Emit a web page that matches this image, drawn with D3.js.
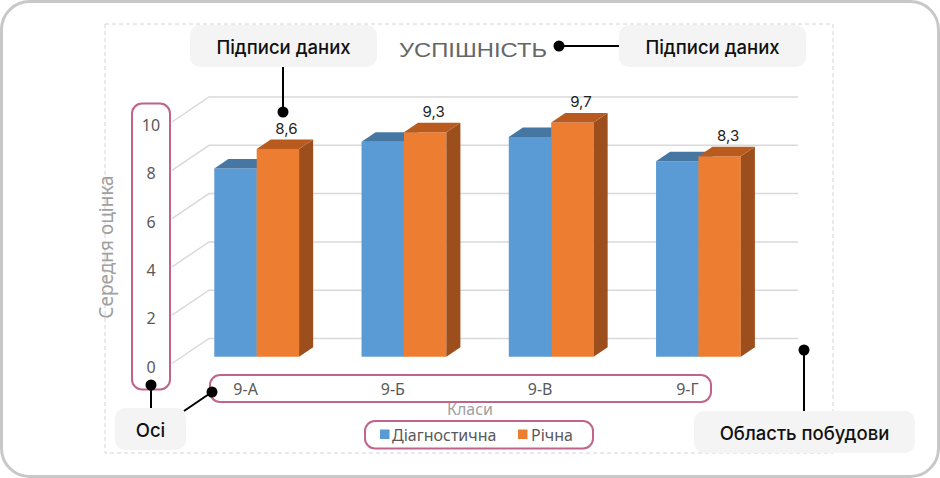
<!DOCTYPE html>
<html>
<head>
<meta charset="utf-8">
<script src="https://cdn.jsdelivr.net/npm/d3@7"></script>
<style>
  body { margin: 0; background: #fff; }
  svg { display: block; }
</style>
</head>
<body>
<svg id="chart"></svg>
<script>
// chart data
const categories = ['9-А', '9-Б', '9-В', '9-Г'];
const seriesNames = ['Діагностична', 'Річна'];
const diagnostic = [7.8, 8.9, 9.1, 8.1];
const annual = [8.6, 9.3, 9.7, 8.3];
const yTicks = [0, 2, 4, 6, 8, 10];
const titleText = 'УСПІШНІСТЬ';
const yTitle = 'Середня оцінка';
const xTitle = 'Класи';

const W = 940, H = 478;
const svg = d3.select('#chart').attr('width', W).attr('height', H);

const colors = {
  'Діагностична': { front: '#5b9bd5', top: '#4677a3', side: '#3f6d96' },
  'Річна': { front: '#ed7d31', top: '#b95b1f', side: '#9c4f1d' }
};
const pink = '#c0648c';
const axisFont = '"Noto Sans", sans-serif';

// fake 3d: depth 0 = front plane, 1 = back wall
const DX = 37, DY = -25;
const x = d3.scaleBand().domain(categories).range([172, 761]);
const xs = d3.scaleBand().domain(seriesNames).range([32.3, 117.1]);
const y = d3.scaleLinear().domain([0, 10]).range([363.5, 122]);
const d0 = 0.27, d1 = 0.65;

// outer frame
svg.append('rect')
  .attr('x', 1.5).attr('y', 1.5).attr('width', W - 3).attr('height', H - 3)
  .attr('rx', 28).attr('fill', '#fff')
  .attr('stroke', '#c8c8c8').attr('stroke-width', 3);

// chart area
svg.append('rect')
  .attr('x', 105).attr('y', 24).attr('width', 728).attr('height', 429)
  .attr('fill', 'none').attr('stroke', '#d4d4d4')
  .attr('stroke-dasharray', '4,3').attr('stroke-width', 1);

// gridlines: side wall diagonal + back wall horizontal
const grid = svg.append('g').attr('stroke', '#d9d9d9').attr('stroke-width', 1.5).attr('fill', 'none');
yTicks.forEach(t => {
  grid.append('path').attr('d', d3.line()([
    [x.range()[0], y(t)],
    [x.range()[0] + DX, y(t) + DY],
    [x.range()[1] + DX, y(t) + DY]
  ]));
});

// bars
const bars = svg.append('g');
categories.forEach((c, i) => {
  [diagnostic[i], annual[i]].forEach((v, k) => {
    const s = seriesNames[k];
    const col = colors[s];
    const xl = x(c) + xs(s), xr = xl + xs.bandwidth();
    const p = (xx, vv, d) => [xx + DX * d, y(vv) + DY * d];
    // front face
    bars.append('path').attr('fill', col.front)
      .attr('d', d3.line()([p(xl, 0, d0), p(xr, 0, d0), p(xr, v, d0), p(xl, v, d0)]) + 'Z');
    // side face
    bars.append('path').attr('fill', col.side)
      .attr('d', d3.line()([p(xr, 0, d0), p(xr, 0, d1), p(xr, v, d1), p(xr, v, d0)]) + 'Z');
    // top face
    bars.append('path').attr('fill', col.top)
      .attr('d', d3.line()([p(xl, v, d0), p(xr, v, d0), p(xr, v, d1), p(xl, v, d1)]) + 'Z');
    // data labels on annual only
    if (s === 'Річна') {
      bars.append('text')
        .attr('x', (xl + xr) / 2 + DX * 0.5)
        .attr('y', y(v) + DY * d1 - 6)
        .attr('text-anchor', 'middle')
        .attr('font-family', 'Inter, sans-serif')
        .attr('font-size', 15)
        .attr('fill', '#222')
        .text(String(v).replace('.', ','));
    }
  });
});

// y tick labels
svg.append('g').selectAll('text').data(yTicks).join('text')
  .attr('x', 151).attr('y', d => y(d) + 3)
  .attr('text-anchor', 'middle').attr('dominant-baseline', 'central')
  .attr('font-family', axisFont).attr('font-size', 16)
  .attr('fill', '#595959')
  .text(d => d);

// x tick labels
svg.append('g').selectAll('text').data(categories).join('text')
  .attr('x', d => x(d) + x.bandwidth() / 2).attr('y', 389)
  .attr('text-anchor', 'middle').attr('dominant-baseline', 'central')
  .attr('font-family', axisFont).attr('font-size', 16)
  .attr('fill', '#595959')
  .text(d => d);

// axis titles
svg.append('text')
  .attr('transform', 'translate(106,247) rotate(-90)')
  .attr('text-anchor', 'middle').attr('dominant-baseline', 'central')
  .attr('font-family', axisFont).attr('font-size', 19)
  .attr('fill', '#a0a0a0')
  .text(yTitle);

svg.append('text')
  .attr('x', 470).attr('y', 409)
  .attr('text-anchor', 'middle').attr('dominant-baseline', 'central')
  .attr('font-family', axisFont).attr('font-size', 16)
  .attr('fill', '#a0a0a0')
  .text(xTitle);

// title
svg.append('text')
  .attr('x', 473).attr('y', 56.5)
  .attr('text-anchor', 'middle')
  .attr('font-family', '"Liberation Sans Narrow", "Liberation Sans", sans-serif')
  .attr('font-size', 21)
  .attr('textLength', 148).attr('lengthAdjust', 'spacingAndGlyphs')
  .attr('fill', '#666')
  .text(titleText);

// legend
const legend = svg.append('g');
const legendItems = [
  { name: seriesNames[0], sx: 380, tx: 392 },
  { name: seriesNames[1], sx: 518, tx: 531 }
];
legendItems.forEach(it => {
  legend.append('rect').attr('x', it.sx).attr('y', 429.5).attr('width', 9.5).attr('height', 9.5)
    .attr('fill', colors[it.name].front);
  legend.append('text').attr('x', it.tx).attr('y', 434.5)
    .attr('dominant-baseline', 'central')
    .attr('font-family', axisFont).attr('font-size', 16)
    .attr('fill', '#595959')
    .text(it.name);
});

// pink highlight outlines
const outlines = [
  { x: 132, y: 103.5, w: 38, h: 286 },   // y axis
  { x: 210, y: 375, w: 501, h: 27 },     // x axis
  { x: 365, y: 421, w: 228, h: 27.5 }    // legend
];
svg.append('g').selectAll('rect').data(outlines).join('rect')
  .attr('x', d => d.x).attr('y', d => d.y).attr('width', d => d.w).attr('height', d => d.h)
  .attr('rx', 10).attr('fill', 'none').attr('stroke', pink).attr('stroke-width', 2);

// callouts
const callouts = [
  { text: 'Підписи даних', x: 190, y: 25, w: 187, h: 42 },
  { text: 'Підписи даних', x: 619, y: 25, w: 187, h: 42 },
  { text: 'Осі', x: 115, y: 408, w: 71, h: 42 },
  { text: 'Область побудови', x: 694, y: 411, w: 221, h: 42 }
];
const leaders = [
  [[283, 67], [283, 112]],
  [[559, 46], [619, 46]],
  [[151, 385], [151, 408]],
  [[212, 392], [184, 411]],
  [[804, 350], [804, 411]]
];
const dots = [[283, 112], [559, 46], [151, 385], [212, 392], [804, 350]];

const cg = svg.append('g');
cg.selectAll('path').data(leaders).join('path')
  .attr('d', d => d3.line()(d)).attr('stroke', '#000').attr('stroke-width', 2);
cg.selectAll('circle').data(dots).join('circle')
  .attr('cx', d => d[0]).attr('cy', d => d[1]).attr('r', 5.5).attr('fill', '#000');
const boxes = cg.selectAll('g.box').data(callouts).join('g').attr('class', 'box');
boxes.append('rect')
  .attr('x', d => d.x).attr('y', d => d.y).attr('width', d => d.w).attr('height', d => d.h)
  .attr('rx', 10).attr('fill', '#f4f4f4');
boxes.append('text')
  .attr('x', d => d.x + d.w / 2).attr('y', d => d.y + d.h / 2 + 1)
  .attr('text-anchor', 'middle').attr('dominant-baseline', 'central')
  .attr('font-family', 'Inter, sans-serif').attr('font-size', 18.5).attr('font-weight', 500)
  .attr('fill', '#111')
  .text(d => d.text);
</script>
</body>
</html>
